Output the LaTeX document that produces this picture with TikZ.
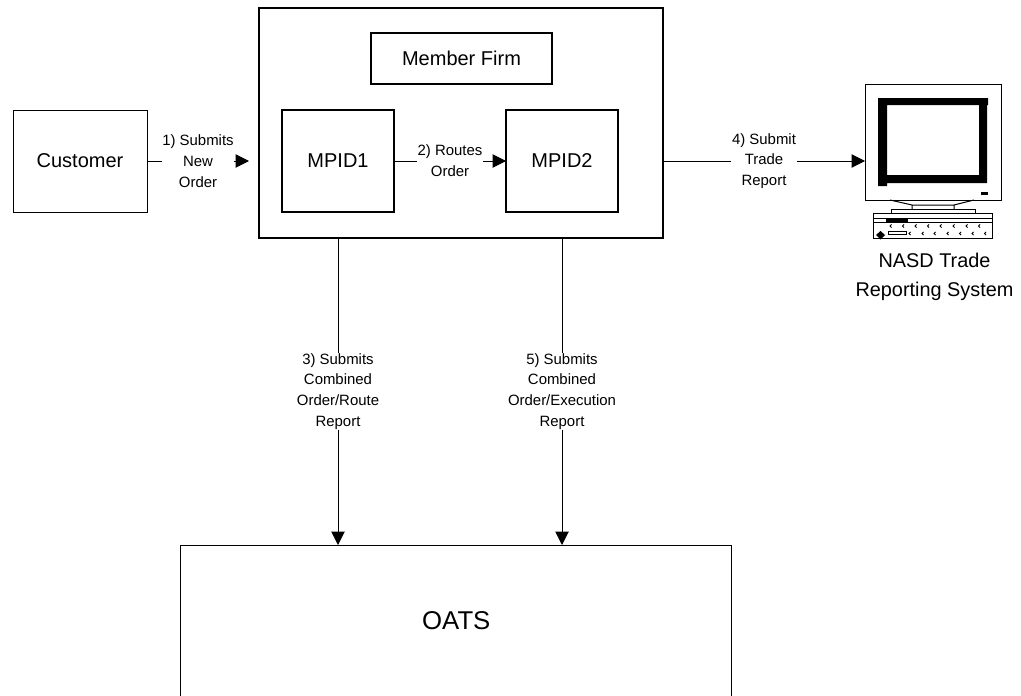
\documentclass[tikz,border=0pt]{standalone}
\usepackage{fontspec}
\setmainfont{Liberation Sans}
\usetikzlibrary{arrows.meta}

\begin{document}
\begin{tikzpicture}[x=.75pt, y=-.75pt, line width=.75pt,
  box/.style 2 args={draw, outer sep=0pt, inner sep=0pt, align=center, font=\fontsize{15}{17}\selectfont, minimum width=#1*.75pt, minimum height=#2*.75pt},
  step label/.style={fill=white, inner sep=.5pt, align=center, font=\fontsize{11.2}{15.6}\selectfont},
  link/.style={-{Triangle[length=10pt, width=10pt]}}]
\useasboundingbox (0,0) rectangle (1021,696);

\node[box={134}{102}] (customer) at (80,161) {Customer};
\node[box={404}{230}, line width=1.05pt] (firm) at (461,123) {};
\node[box={181}{51}, line width=.8pt] (member) at (461.5,58.5) {Member Firm};
\node[box={112}{102}, line width=.8pt] (mpid1) at (338,161) {MPID1};
\node[box={112}{102}, line width=.8pt] (mpid2) at (562,161) {MPID2};
\node[box={551}{180}, anchor=north] (oats) at (455.5,545) {};
\node[font=\fontsize{19.3}{22}\selectfont, inner sep=0pt] (oatsname) at (456.3,620.5) {OATS};

% monitor
\node[box={136}{116}] (monitor) at (933,142) {};
\fill (878,98) rectangle (988,105) (878,98) rectangle (887,186) (878,175) rectangle (987,183) (979,105) rectangle (987,183);
\fill (981,192) rectangle (988,195);
\draw (890,200) -- (912,205) -- (912,209) (974,200) -- (954,205) -- (954,209) (912,205) -- (954,205);
\draw (891,209) rectangle (975,213.5);
\node[box={119}{25}] (keyboard) at (932.5,226) {};
\draw (873,218.5) -- (992,218.5) (873,222.5) -- (992,222.5);
\fill (886,219) rectangle (908,222.5);
\fill (880.5,231) -- (885,235) -- (880.5,239.5) -- (876,235) -- cycle;
\draw (888.5,231) rectangle (906.5,234.5);
\foreach \x in {890,902.5,915,927.5,940,953,966,978.5}
  \draw[line width=.6pt] (\x+1.5,224.5) -- (\x,226) -- (\x+1.5,227.5);
\foreach \x in {909,922,934,947,959.5,972,984.5}
  \draw[line width=.6pt] (\x+1.5,232) -- (\x,233.5) -- (\x+1.5,235);
\node[font=\fontsize{14.9}{21.5}\selectfont, align=center, inner sep=0pt] (nasd) at (934.5,277) {NASD Trade\\Reporting System};

\coordinate (firmin) at (249,161);
\coordinate (monitorin) at (865,161);
\draw[link] (customer) -- node[step label] (l1) {1) Submits\\New\\Order} (firmin);
\draw[link] (mpid1) -- node[step label] (l2) {2) Routes\\Order} (mpid2);
\draw[link] (firm.east |- monitorin) -- node[step label] (l4) {4) Submit\\Trade\\Report} (monitorin);
\draw[link] (mpid1 |- firm.south) -- node[step label] (l3) {3) Submits\\Combined\\Order/Route\\Report} (mpid1 |- oats.north);
\draw[link] (mpid2 |- firm.south) -- node[step label] (l5) {5) Submits\\Combined\\Order/Execution\\Report} (mpid2 |- oats.north);
\end{tikzpicture}
\end{document}
